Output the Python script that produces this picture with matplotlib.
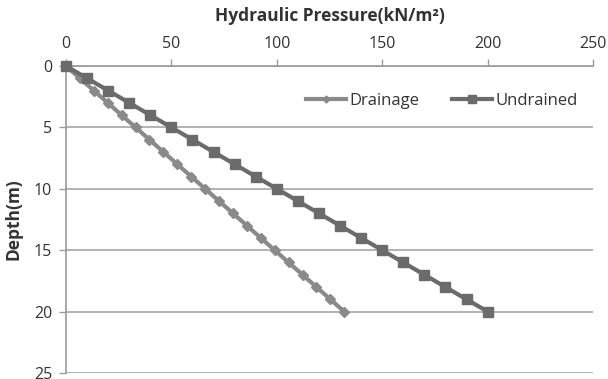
import matplotlib
matplotlib.use("Agg")
import matplotlib.pyplot as plt

# depth (m) and pressure (kN/m2)
depth = [0, 1, 2, 3, 4, 5, 6, 7, 8, 9, 10, 11, 12, 13, 14, 15, 16, 17, 18, 19, 20]
drainage = [0, 6.6, 13.2, 19.8, 26.4, 33.0, 39.6, 46.2, 52.8, 59.4, 66.0,
            72.6, 79.2, 85.8, 92.4, 99.0, 105.6, 112.2, 118.8, 125.4, 132.0]
undrained = [0, 10, 20, 30, 40, 50, 60, 70, 80, 90, 100,
             110, 120, 130, 140, 150, 160, 170, 180, 190, 200]

x_ticks = [0, 50, 100, 150, 200, 250]
y_ticks = [0, 5, 10, 15, 20, 25]

plt.rcParams['font.family'] = ['Open Sans', 'DejaVu Sans']

fig = plt.figure(figsize=(6.08, 3.79), dpi=100)
ax = fig.add_axes([66/608, 6/379, (593-66)/608, (373-66)/379])

ax.plot(drainage, depth, color='#8a8a8a', lw=3, marker='D', ms=5,
        mec='#8a8a8a', mfc='#8a8a8a', label='Drainage', clip_on=False, zorder=3)
ax.plot(undrained, depth, color='#6b6b6b', lw=3, marker='s', ms=7.5,
        mec='#6b6b6b', mfc='#6b6b6b', label='Undrained', clip_on=False, zorder=4)

ax.set_xlim(0, 250)
ax.set_ylim(25, 0)
ax.set_xticks(x_ticks)
ax.set_yticks(y_ticks)
ax.xaxis.tick_top()
ax.xaxis.set_label_position('top')
ax.tick_params(axis='x', colors='#9a9a9a', labelcolor='#333333', labelsize=11.5,
               length=5, width=1, pad=5)
ax.tick_params(axis='y', colors='#9a9a9a', labelcolor='#333333', labelsize=11.5,
               length=5, width=1, pad=5)

ax.grid(axis='y', color='#a6a6a6', lw=1.2)
ax.set_axisbelow(True)
for s in ['right', 'bottom']:
    ax.spines[s].set_visible(False)
ax.spines['top'].set_color('#9a9a9a')
ax.spines['left'].set_color('#9a9a9a')
ax.spines['top'].set_linewidth(1.2)
ax.spines['left'].set_linewidth(1.2)

ax.set_xlabel('Hydraulic Pressure(kN/m²)', fontsize=12.5, fontweight='bold',
              color='#333333', labelpad=11)
ax.set_ylabel('Depth(m)', fontsize=12.5, fontweight='bold', color='#333333',
              labelpad=8)

leg = ax.legend(loc='upper right', bbox_to_anchor=(1.0, 0.96), ncol=2,
                frameon=False, fontsize=12, handlelength=2.4, handletextpad=0.2,
                columnspacing=2.0, markerscale=0.7)
for t in leg.get_texts():
    t.set_color('#333333')

fig.savefig('out.png', dpi=100)
